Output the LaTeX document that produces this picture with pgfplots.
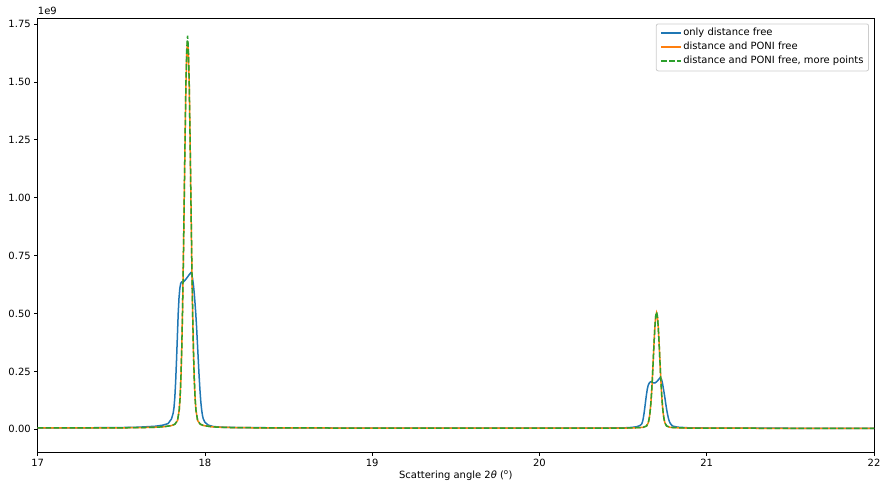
\documentclass[border=0pt]{standalone}
\usepackage{pgfplots}
\pgfplotsset{compat=1.18}
\usepackage{pgfplotstable}
\usepackage{fontspec}
\setmainfont{DejaVu Sans}

\definecolor{c0}{HTML}{1F77B4}
\definecolor{c1}{HTML}{FF7F0E}
\definecolor{c2}{HTML}{2CA02C}

% only distance free (intensity in units of 1e9)
\pgfplotstableread{
x y
17.0 0.006
17.3 0.0065
17.5 0.0075
17.6 0.009
17.7 0.013
17.75 0.018
17.78 0.025
17.80 0.045
17.81 0.070
17.815 0.095
17.82 0.14
17.825 0.21
17.83 0.30
17.835 0.40
17.84 0.50
17.845 0.57
17.85 0.61
17.855 0.63
17.86 0.636
17.865 0.634
17.87 0.636
17.88 0.643
17.89 0.652
17.90 0.662
17.91 0.672
17.915 0.676
17.92 0.670
17.925 0.655
17.93 0.63
17.935 0.595
17.94 0.55
17.945 0.50
17.95 0.44
17.955 0.37
17.96 0.30
17.965 0.23
17.97 0.17
17.975 0.12
17.98 0.085
17.985 0.06
17.99 0.045
18.00 0.030
18.02 0.018
18.05 0.012
18.1 0.009
18.2 0.0075
18.4 0.0065
18.8 0.0055
19.5 0.005
20.2 0.005
20.4 0.0055
20.5 0.006
20.55 0.008
20.58 0.011
20.60 0.016
20.61 0.022
20.615 0.030
20.62 0.045
20.625 0.068
20.63 0.095
20.635 0.125
20.64 0.152
20.645 0.175
20.65 0.19
20.655 0.198
20.66 0.203
20.665 0.205
20.67 0.205
20.68 0.201
20.69 0.200
20.70 0.205
20.71 0.213
20.72 0.222
20.725 0.222
20.73 0.215
20.735 0.20
20.74 0.18
20.745 0.158
20.75 0.135
20.755 0.11
20.76 0.087
20.765 0.067
20.77 0.05
20.775 0.037
20.78 0.028
20.79 0.018
20.80 0.013
20.83 0.009
20.9 0.006
21.0 0.0055
21.5 0.0045
22.0 0.004
}\onlydist

% distance and PONI free / more points
\pgfplotstableread{
x poni more
17.0 0.006 0.006
17.3 0.006 0.006
17.5 0.0065 0.0065
17.6 0.007 0.007
17.7 0.0087 0.0087
17.75 0.0107 0.0107
17.8 0.016 0.016
17.82 0.022 0.022
17.836 0.038 0.038
17.846 0.083 0.083
17.851 0.134 0.134
17.856 0.217 0.217
17.861 0.342 0.342
17.866 0.515 0.515
17.871 0.737 0.737
17.876 0.993 0.995
17.881 1.252 1.256
17.886 1.482 1.49
17.891 1.625 1.64
17.896 1.675 1.70
17.901 1.625 1.64
17.906 1.482 1.49
17.911 1.252 1.256
17.916 0.993 0.995
17.921 0.737 0.737
17.926 0.515 0.515
17.931 0.342 0.342
17.936 0.217 0.217
17.941 0.134 0.134
17.946 0.083 0.083
17.956 0.038 0.038
17.972 0.022 0.022
17.992 0.016 0.016
18.042 0.0107 0.0107
18.096 0.0087 0.0087
18.196 0.007 0.007
18.4 0.0062 0.0062
18.8 0.0055 0.0055
19.5 0.005 0.005
20.2 0.0048 0.0048
20.4 0.005 0.005
20.5 0.0053 0.0053
20.55 0.0059 0.0059
20.60 0.0074 0.0074
20.62 0.0087 0.0087
20.64 0.0142 0.0142
20.65 0.0276 0.0276
20.655 0.0427 0.0427
20.66 0.0671 0.0671
20.665 0.104 0.104
20.67 0.1555 0.1555
20.675 0.221 0.221
20.68 0.297 0.297
20.685 0.374 0.374
20.69 0.442 0.442
20.695 0.488 0.490
20.70 0.503 0.507
20.705 0.488 0.490
20.71 0.442 0.442
20.715 0.374 0.374
20.72 0.297 0.297
20.725 0.221 0.221
20.73 0.1555 0.1555
20.735 0.104 0.104
20.74 0.0671 0.0671
20.745 0.0427 0.0427
20.75 0.0276 0.0276
20.76 0.0142 0.0142
20.78 0.0087 0.0087
20.80 0.0074 0.0074
20.85 0.0059 0.0059
20.9 0.0053 0.0053
21.0 0.005 0.005
21.5 0.0042 0.0042
22.0 0.004 0.004
}\fitted

\begin{document}
\begin{tikzpicture}
\begin{axis}[
    name=ax,
    scale only axis,
    width=836bp, height=434bp,
    xmin=17, xmax=22,
    ymin=-0.1, ymax=1.775,
    xtick={17,18,19,20,21,22},
    ytick={0,0.25,0.5,0.75,1,1.25,1.5,1.75},
    yticklabel style={/pgf/number format/.cd, fixed, fixed zerofill, precision=2},
    scaled y ticks=false,
    /pgf/number format/assume math mode=true,
    tick label style={font=\fontsize{10}{12}\selectfont},
    label style={font=\fontsize{10}{12}\selectfont},
    tick align=outside,
    major tick length=3.5bp,
    xtick pos=bottom, ytick pos=left,
    axis line style={line width=0.8bp},
    every tick/.style={black, line width=0.8bp},
    xlabel={Scattering angle 2\textit{θ} (\textsuperscript{o})},
    xlabel style={yshift=3bp},
    legend cell align=left,
    legend style={at={(0.994,0.988)}, anchor=north east,
        draw=black!20, rounded corners=2bp, line width=0.8bp,
        fill=white,
        font=\fontsize{10}{12}\selectfont,
        nodes={inner sep=1bp, text height=8bp, text depth=3bp},
        row sep=1bp, inner xsep=4bp, inner ysep=3bp},
    legend image code/.code={\draw[#1, rounded corners=0pt, line width=2bp] (0bp,0bp) -- (20bp,0bp);},
]
\addplot[draw=c0, line width=1.5bp] table[x=x, y=y] {\onlydist};
\addlegendentry{only distance free}
\addplot[draw=c1, line width=1.5bp] table[x=x, y=poni] {\fitted};
\addlegendentry{distance and PONI free}
\addplot[draw=c2, line width=1.5bp, dash pattern=on 5.55bp off 2.4bp] table[x=x, y=more] {\fitted};
\addlegendentry{distance and PONI free, more points}
\end{axis}
\node[anchor=south west, font=\fontsize{10}{12}\selectfont, inner sep=0pt] at ([yshift=3bp]ax.north west) {1e9};
\path ([shift={(-37.7bp,-42.7bp)}]ax.south west) rectangle ([shift={(13bp,18.3bp)}]ax.north east);
\end{tikzpicture}
\end{document}
